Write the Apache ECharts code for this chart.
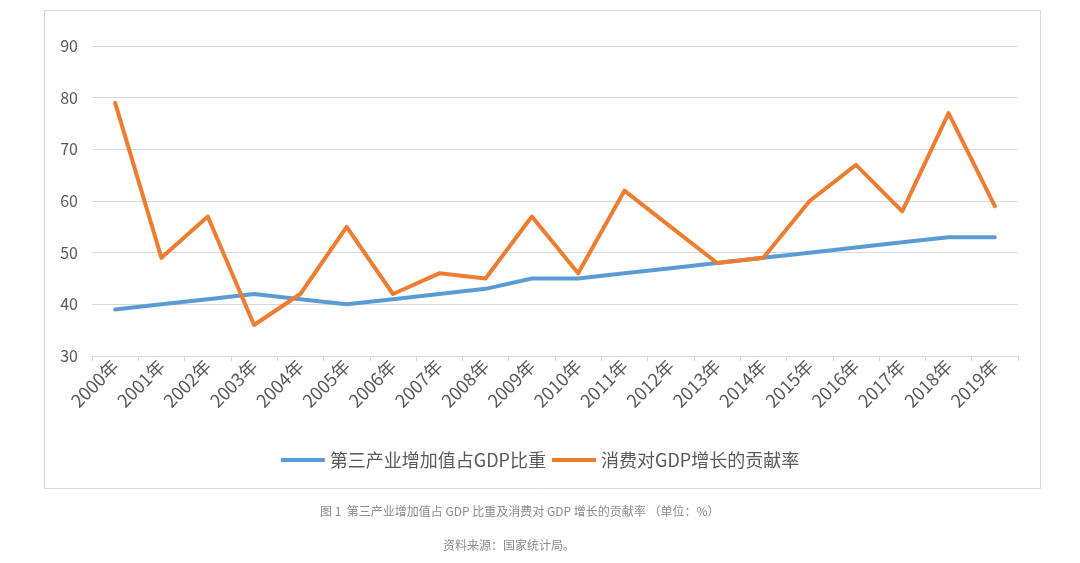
<!DOCTYPE html>
<html><head><meta charset="utf-8">
<script src="https://cdn.jsdelivr.net/npm/echarts@6/dist/echarts.min.js"></script>
<style>html,body{margin:0;padding:0;background:#fff}#c{width:1080px;height:563px}</style>
</head><body><div id="c"></div>
<script>
const categories = ['2000年','2001年','2002年','2003年','2004年','2005年','2006年','2007年','2008年','2009年','2010年','2011年','2012年','2013年','2014年','2015年','2016年','2017年','2018年','2019年'];
const tertiaryShare = [39,40,41,42,41,40,41,42,43,45,45,46,47,48,49,50,51,52,53,53];
const consumptionContribution = [79,49,57,36,42,55,42,46,45,57,46,62,55,48,49,60,67,58,77,59];
const seriesNames = ['第三产业增加值占GDP比重','消费对GDP增长的贡献率'];
const caption1 = '图 1  第三产业增加值占 GDP 比重及消费对 GDP 增长的贡献率 （单位：%）';
const caption2 = '资料来源：国家统计局。';

const font = '"Noto Sans CJK SC", "Noto Sans", sans-serif';
const chart = echarts.init(document.getElementById('c'));
chart.setOption({
  animation: false,
  textStyle: {fontFamily: font},
  graphic: [
    {type:'rect', shape:{x:44.5,y:10.5,width:996,height:478}, style:{fill:'none', stroke:'#d9d9d9', lineWidth:1}, z:-1},
    {type:'text', left:320, top:505, style:{text:caption1, fill:'#8c8c8c', font:'12px ' + font}},
    {type:'text', left:443, top:539, style:{text:caption2, fill:'#8c8c8c', font:'12px ' + font}}
  ],
  legend: {
    data: seriesNames,
    top: 446,
    left: 'center',
    icon: 'rect',
    itemWidth: 44,
    itemHeight: 4,
    itemGap: 6,
    textStyle: {color:'#595959', fontSize:18, fontFamily: font}
  },
  grid: {left:92, right:62, top:46, bottom:207},
  xAxis: {
    type:'category',
    data: categories,
    boundaryGap: true,
    axisLine: {lineStyle:{color:'#d9d9d9', width:1}},
    axisTick: {show:true, length:5, lineStyle:{color:'#d9d9d9'}},
    axisLabel: {rotate:45, color:'#595959', fontSize:18, margin:7, interval:0, fontFamily: font}
  },
  yAxis: {
    type:'value', min:30, max:90, interval:10,
    axisLine:{show:false}, axisTick:{show:false},
    splitLine:{lineStyle:{color:'#d9d9d9', width:1}},
    axisLabel:{color:'#595959', fontSize:16, margin:14, fontFamily: font}
  },
  series: [
    {name:seriesNames[0], type:'line', data:tertiaryShare, symbol:'none', lineStyle:{color:'#5B9BD5', width:4, cap:'round', join:'round'}, itemStyle:{color:'#5B9BD5'}},
    {name:seriesNames[1], type:'line', data:consumptionContribution, symbol:'none', lineStyle:{color:'#ED7D31', width:4, cap:'round', join:'round'}, itemStyle:{color:'#ED7D31'}}
  ]
});
</script></body></html>
